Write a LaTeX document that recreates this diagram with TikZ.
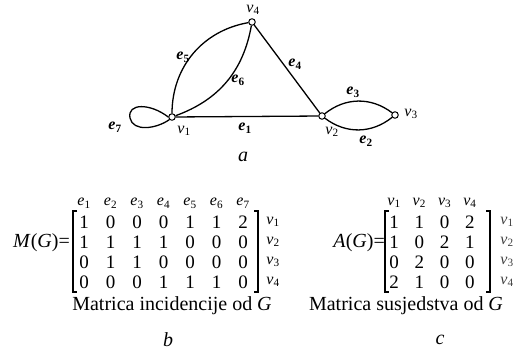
\documentclass[tikz,border=0pt]{standalone}
\usepackage{fontspec}
\setmainfont{Liberation Serif}
\newcommand\lb[2]{\textit{#1}\textsubscript{#2}}
\begin{document}
\begin{tikzpicture}[x=1pt,y=-1pt,
  vert/.style={circle,draw,line width=1pt,inner sep=0pt,minimum size=6.5pt,fill=white},
  edge/.style={line width=1.3pt},
  elab/.style={font=\fontsize{16}{16}\selectfont\bfseries,inner sep=0pt},
  vlab/.style={font=\fontsize{16}{16}\selectfont,inner sep=0pt},
  ent/.style={font=\fontsize{19}{19}\selectfont,inner sep=0pt},
  hdr/.style={font=\fontsize{16}{16}\selectfont,inner sep=0pt},
  txt/.style={font=\fontsize{20}{20}\selectfont,inner sep=0pt},
  brk/.style={line width=1.1pt}]
\useasboundingbox (0,0) rectangle (518,350);
% graph
\node[vert] (v1) at (172,117) {};
\node[vert] (v2) at (322,116) {};
\node[vert] (v3) at (395,115) {};
\node[vert] (v4) at (252,22) {};
\draw[edge] (v1) -- (v2);
\draw[edge] (v2) -- (v4);
\draw[edge] (v1) to[bend left=40] (v4);
\draw[edge] (v1) to[bend right=30] (v4);
\draw[edge] (v2) to[bend left=38] (v3);
\draw[edge] (v2) to[bend right=38] (v3);
\draw[edge] (v1.west) .. controls (150,103) and (127,103) .. (130,118) .. controls (133,132) and (156,129) .. (v1.south west);
\node[vlab] (l4) at (253,10) {\lb{v}{4}};
\node[vlab] (l1) at (184,131) {\lb{v}{1}};
\node[vlab] (l2) at (332,132) {\lb{v}{2}};
\node[vlab] (l3) at (411,114) {\lb{v}{3}};
\node[elab] (e1) at (245,128) {\lb{e}{1}};
\node[elab] (e2) at (366,141) {\lb{e}{2}};
\node[elab] (e3) at (353,92) {\lb{e}{3}};
\node[elab] (e4) at (295,64) {\lb{e}{4}};
\node[elab] (e5) at (183,57) {\lb{e}{5}};
\node[elab] (e6) at (238,80) {\lb{e}{6}};
\node[elab] (e7) at (115,127) {\lb{e}{7}};
\node[txt] (la) at (243,157) {\textit{a}};
% incidence matrix
\node[txt,anchor=east] (MG) at (70,243) {\textit{M}(\textit{G})=};
\foreach \c in {1,...,7} {\node[hdr] (h\c) at ({84+(\c-1)*26.5},203) {\lb{e}{\c}};}
\foreach \row [count=\r] in {{1,0,0,0,1,1,2},{1,1,1,1,0,0,0},{0,1,1,0,0,0,0},{0,0,0,1,1,1,0}} {
  \foreach \v [count=\c] in \row {\node[ent] (m\r\c) at ({84+(\c-1)*26.5},{222+(\r-1)*20}) {\v};}
  \node[hdr] (mr\r) at (273,{222+(\r-1)*20}) {\lb{v}{\r}};
}
\draw[brk] (77,211) -- (73,211) -- (73,292) -- (77,292);
\draw[brk] (254,211) -- (258,211) -- (258,292) -- (254,292);
\node[txt] (tM) at (172,306) {Matrica incidencije od \textit{G}};
\node[txt] (lb) at (168,340) {\textit{b}};
% adjacency matrix
\node[txt,anchor=east] (AG) at (385,243) {\textit{A}(\textit{G})=};
\foreach \c in {1,...,4} {\node[hdr] (k\c) at ({394+(\c-1)*25.3},203) {\lb{v}{\c}};}
\foreach \row [count=\r] in {{1,1,0,2},{1,0,2,1},{0,2,0,0},{2,1,0,0}} {
  \foreach \v [count=\c] in \row {\node[ent] (a\r\c) at ({394+(\c-1)*25.3},{222+(\r-1)*20}) {\v};}
  \node[hdr,text=black!75] (ar\r) at (507,{222+(\r-1)*20}) {\lb{v}{\r}};
}
\draw[brk] (389,211) -- (385,211) -- (385,292) -- (389,292);
\draw[brk] (486,211) -- (490,211) -- (490,292) -- (486,292);
\node[txt] (tA) at (406,306) {Matrica susjedstva od \textit{G}};
\node[txt] (lc) at (440,340) {\textit{c}};
\end{tikzpicture}
\end{document}
